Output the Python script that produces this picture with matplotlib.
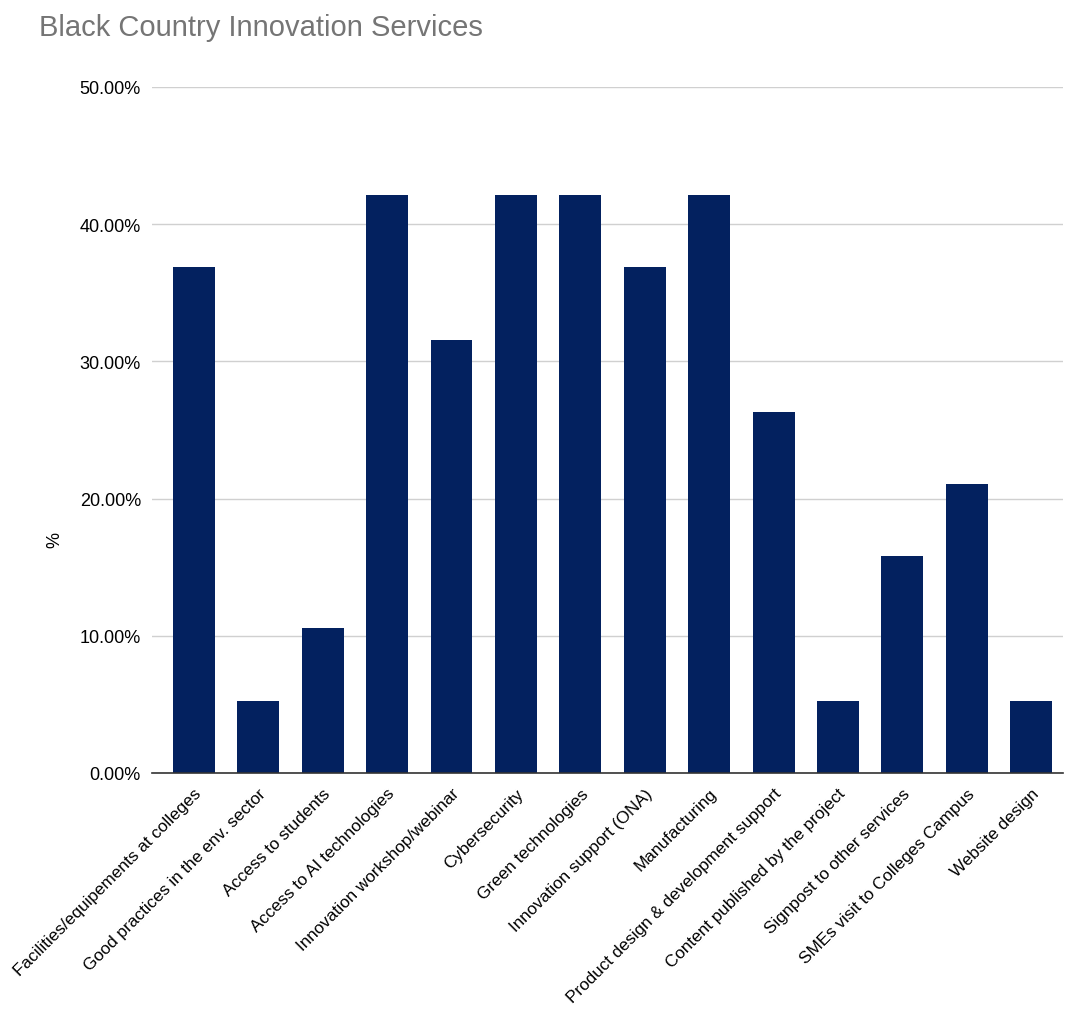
import numpy as np
import matplotlib
matplotlib.use('Agg')
import matplotlib.pyplot as plt
from matplotlib.ticker import PercentFormatter

plt.rcParams['font.family'] = ['Liberation Sans', 'DejaVu Sans']

categories = [
    'Facilities/equipements at colleges',
    'Good practices in the env. sector',
    'Access to students',
    'Access to AI technologies',
    'Innovation workshop/webinar',
    'Cybersecurity',
    'Green technologies',
    'Innovation support (ONA)',
    'Manufacturing',
    'Product design & development support',
    'Content published by the project',
    'Signpost to other services',
    'SMEs visit to Colleges Campus',
    'Website design',
]
values = [36.84, 5.26, 10.53, 42.11, 31.58, 42.11, 42.11, 36.84, 42.11,
          26.32, 5.26, 15.79, 21.05, 5.26]
yticks = [0, 10, 20, 30, 40, 50]

fig = plt.figure(figsize=(10.66, 10.12), dpi=100)
ax = fig.add_axes([0.1426, 0.2352, 0.855, 0.678])

x = np.arange(len(categories))
ax.bar(x, values, width=0.65, color='#03215f', zorder=3)

ax.set_ylim(0, 50)
ax.set_xlim(-0.65, 13.5)
ax.set_yticks(yticks)
ax.yaxis.set_major_formatter(PercentFormatter(decimals=2))
ax.grid(axis='y', color='#d0d0d0', linewidth=1, zorder=0)
ax.set_xticks(x)
ax.set_xticklabels(categories, rotation=45, ha='right', rotation_mode='anchor', fontsize=12.3)
ax.tick_params(axis='y', labelsize=13, length=0, pad=8)
ax.tick_params(axis='x', length=0, pad=9)
for s in ['top', 'right', 'left']:
    ax.spines[s].set_visible(False)
ax.spines['bottom'].set_color('#333333')
ax.spines['bottom'].set_linewidth(1.2)
ax.spines['bottom'].set_zorder(4)

# y label sits lower than the axes centre in the original
fig.text(55 / 1066, 1 - 540 / 1012, '%', fontsize=13, rotation=90,
         ha='center', va='center')
fig.text(0.037, 0.972, 'Black Country Innovation Services', fontsize=21,
         color='#757575', va='center', ha='left')

fig.savefig('out.png', dpi=100)
